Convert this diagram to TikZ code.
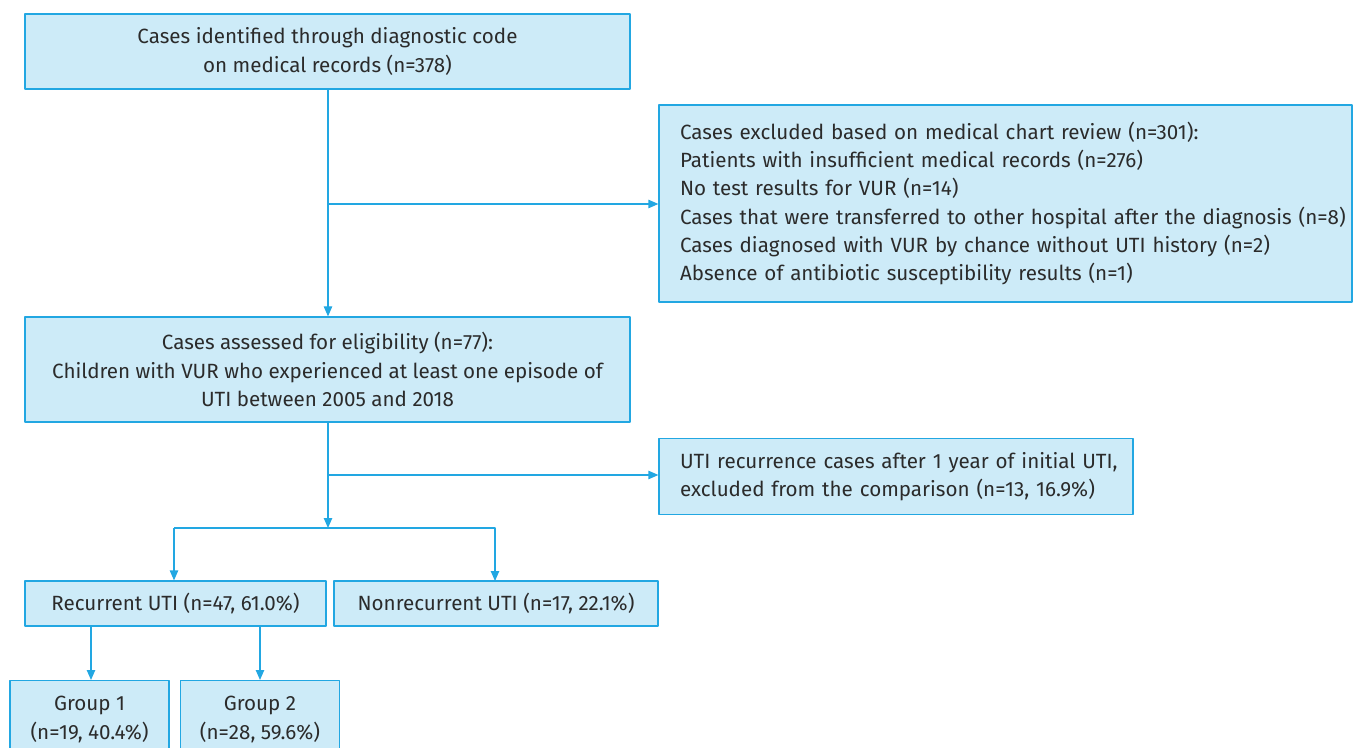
\documentclass[tikz,border=0pt]{standalone}
\usepackage{fontspec}
\setmainfont{Fira Sans}
\usetikzlibrary{arrows.meta}
\definecolor{boxfill}{HTML}{CDEBF8}
\definecolor{boxline}{HTML}{22A7E2}
\definecolor{txt}{HTML}{2B2B2B}
\begin{document}
\begin{tikzpicture}[x=0.5pt,y=-0.5pt,font=\fontsize{10.3}{14.1}\selectfont,line join=round,>={Triangle[length=5pt,width=4.2pt]},
  box/.style={draw=boxline,fill=boxfill,line width=0.6pt,text=txt,inner sep=0pt},
  link/.style={draw=boxline,line width=0.6pt}]
\useasboundingbox (0,0) rectangle (1354,748);
% boxes
\node[box,minimum width=302.5pt,minimum height=37.5pt,align=center] (ident) at (327.5,51.5) {Cases identified through diagnostic code\\on medical records (n=378)};
\node[box,minimum width=346.5pt,minimum height=98.5pt,align=left,text width=325.5pt] (excl) at (1005.5,203.5) {Cases excluded based on medical chart review (n=301):\\Patients with insufficient medical records (n=276)\\No test results for VUR (n=14)\\\mbox{Cases that were transferred to other hospital after the diagnosis (n=8)}\\Cases diagnosed with VUR by chance without UTI history (n=2)\\Absence of antibiotic susceptibility results (n=1)};
\node[box,minimum width=302.5pt,minimum height=52.5pt,align=center] (elig) at (327.5,369.5) {Cases assessed for eligibility (n=77):\\Children with VUR who experienced at least one episode of\\UTI between 2005 and 2018};
\node[box,minimum width=237pt,minimum height=38pt,align=left,text width=216pt] (late) at (896,476.5) {\mbox{UTI recurrence cases after 1 year of initial UTI,}\\\mbox{excluded from the comparison (n=13, 16.9\%)}};
\node[box,minimum width=150.5pt,minimum height=22.5pt] (recur) at (175.5,603.5) {Recurrent UTI (n=47, 61.0\%)};
\node[box,minimum width=162pt,minimum height=22.5pt] (nonrec) at (496,603.5) {Nonrecurrent UTI (n=17, 22.1\%)};
\node[box,minimum width=79.5pt,minimum height=44pt,align=center,anchor=north] (grpA) at (89.5,680) {\\[-12pt]Group 1\\(n=19, 40.4\%)};
\node[box,minimum width=79.5pt,minimum height=44pt,align=center,anchor=north] (grpB) at (260,680) {\\[-12pt]Group 2\\(n=28, 59.6\%)};
% connectors
\coordinate (splitA) at (328,204);
\coordinate (splitB) at (328,475);
\coordinate (fork) at (328,528);
\draw[link,->] (ident.south -| splitA) -- (elig.north -| splitA);
\draw[link,->] (splitA) -- (excl.west |- splitA);
\draw[link,->] (elig.south -| splitB) -- (fork);
\draw[link,->] (splitB) -- (late.west |- splitB);
\draw[link,->] (fork -| 174,0) -- (174,528 |- recur.north);
\draw[link,->] (fork) -| (495,581);
\draw[link] (fork) -- (174,528);
\draw[link,->] (91,626) -- (grpA.north -| 91,0);
\draw[link,->] (260,626) -- (grpB.north);
\end{tikzpicture}
\end{document}
